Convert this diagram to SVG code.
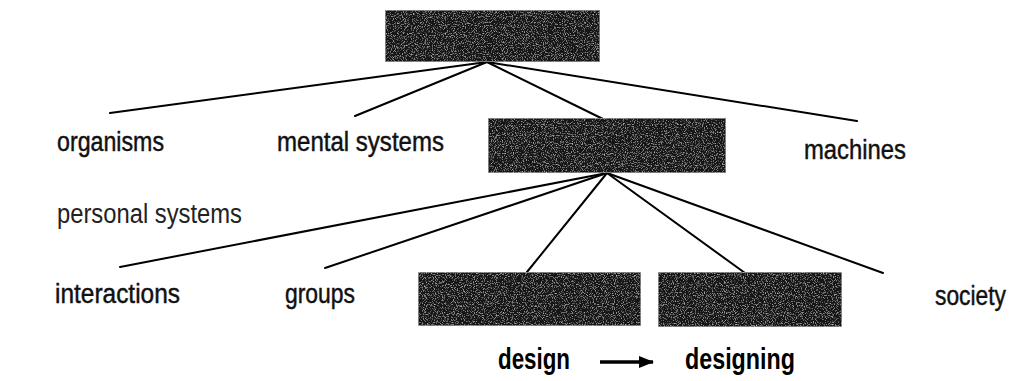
<svg xmlns="http://www.w3.org/2000/svg" width="1017" height="381" viewBox="0 0 1017 381">
  <style>
    .box { fill: #141414; stroke: #9a9a9a; stroke-width: 1.5; }
    .label { font-family: "Liberation Sans", Arial, sans-serif; font-size: 27px; fill: #111; stroke: #111; stroke-width: 0.45; }
    .light { font-family: "Liberation Sans", Arial, sans-serif; font-size: 27px; fill: #222; }
    .bold { font-family: "Liberation Sans", Arial, sans-serif; font-size: 29px; font-weight: bold; fill: #000; }
    .edge { stroke: #000; stroke-width: 2; fill: none; stroke-linecap: round; }
  </style>
  <defs>
    <!-- halftone speckle laid over the dark blocks -->
    <filter id="grain" x="0" y="0" width="100%" height="100%">
      <feTurbulence type="fractalNoise" baseFrequency="0.9" numOctaves="2" seed="7" result="n"/>
      <feColorMatrix in="n" type="matrix" values="0 0 0 0 0.75  0 0 0 0 0.75  0 0 0 0 0.75  1.8 0 0 0 -0.95" result="speck"/>
      <feComposite in="speck" in2="SourceGraphic" operator="atop"/>
    </filter>
    <marker id="arrow" markerWidth="15" markerHeight="12" refX="14" refY="6" orient="auto" markerUnits="userSpaceOnUse">
      <path d="M0,0 L15,6 L0,12 Z" fill="#000"/>
    </marker>
  </defs>

  <rect width="1017" height="381" fill="#fff"/>

  <!-- connectors -->
  <g id="connectors">
    <line class="edge" x1="487" y1="62" x2="110" y2="113"/>
    <line class="edge" x1="487" y1="62" x2="355" y2="116"/>
    <line class="edge" x1="487" y1="62" x2="603" y2="119"/>
    <line class="edge" x1="487" y1="62" x2="857" y2="121"/>
    <line class="edge" x1="607" y1="173" x2="120" y2="267"/>
    <line class="edge" x1="607" y1="173" x2="325" y2="268"/>
    <line class="edge" x1="607" y1="173" x2="527" y2="272"/>
    <line class="edge" x1="607" y1="173" x2="745" y2="273"/>
    <line class="edge" x1="607" y1="173" x2="883" y2="273"/>
    <line x1="600" y1="362" x2="653" y2="362" stroke="#000" stroke-width="3.5" marker-end="url(#arrow)"/>
  </g>

  <!-- root block -->
  <g id="root">
    <rect class="box" x="385" y="10" width="215" height="52" filter="url(#grain)"/>
  </g>

  <!-- first level -->
  <g id="organisms">
    <text class="label" x="57" y="151" textLength="107" lengthAdjust="spacingAndGlyphs">organisms</text>
  </g>
  <g id="mental-systems">
    <text class="label" x="277" y="151" textLength="167" lengthAdjust="spacingAndGlyphs">mental systems</text>
  </g>
  <g id="social-systems">
    <rect class="box" x="488" y="118" width="238" height="55" filter="url(#grain)"/>
  </g>
  <g id="machines">
    <text class="label" x="804" y="159" textLength="102" lengthAdjust="spacingAndGlyphs">machines</text>
  </g>
  <g id="personal-systems">
    <text class="light" x="57" y="223" textLength="185" lengthAdjust="spacingAndGlyphs">personal systems</text>
  </g>

  <!-- second level -->
  <g id="interactions">
    <text class="label" x="55" y="303" textLength="125" lengthAdjust="spacingAndGlyphs">interactions</text>
  </g>
  <g id="groups">
    <text class="label" x="285" y="303" textLength="70" lengthAdjust="spacingAndGlyphs">groups</text>
  </g>
  <g id="block-a">
    <rect class="box" x="418" y="272" width="223" height="54" filter="url(#grain)"/>
  </g>
  <g id="block-b">
    <rect class="box" x="658" y="272" width="184" height="55" filter="url(#grain)"/>
  </g>
  <g id="society">
    <text class="label" x="935" y="305" textLength="71" lengthAdjust="spacingAndGlyphs">society</text>
  </g>

  <!-- caption -->
  <g id="design">
    <text class="bold" x="498" y="369" textLength="72" lengthAdjust="spacingAndGlyphs">design</text>
  </g>
  <g id="designing">
    <text class="bold" x="685" y="369" textLength="110" lengthAdjust="spacingAndGlyphs">designing</text>
  </g>
</svg>
